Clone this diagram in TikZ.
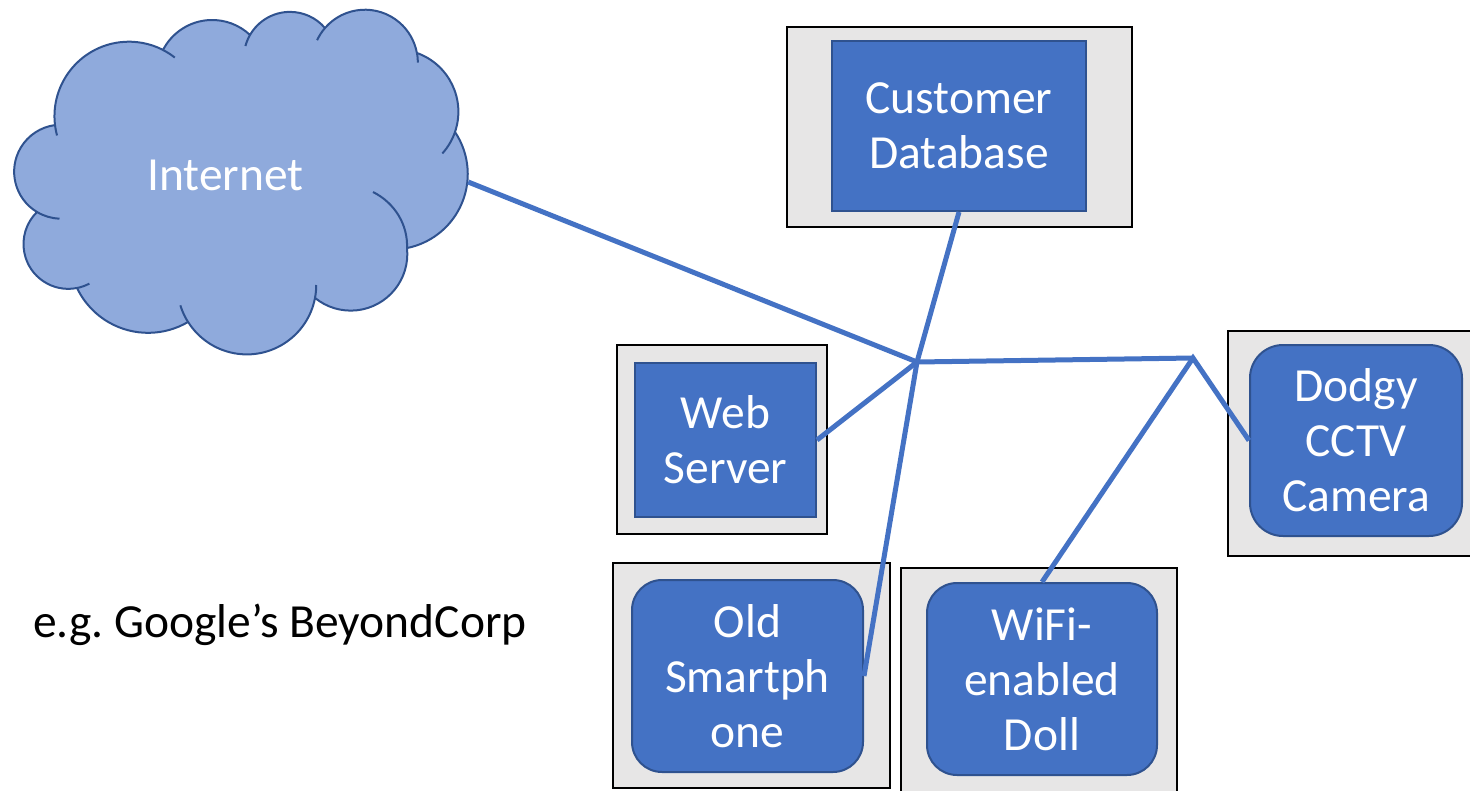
\documentclass[tikz,border=0pt]{standalone}
\usepackage{fontspec}
\setmainfont{Carlito}
\definecolor{boxblue}{HTML}{4472C4}
\definecolor{boxedge}{HTML}{2F528F}
\definecolor{cloudfill}{HTML}{8FAADC}
\definecolor{casefill}{HTML}{E7E6E6}
\frenchspacing
\begin{document}
\begin{tikzpicture}[x=1pt,y=-1pt,
  bigtext/.style={font=\fontsize{47.5}{55}\selectfont},
  casebox/.style={draw=black,fill=casefill,line width=2pt,inner sep=0pt},
  hostbox/.style={draw=boxedge,fill=boxblue,line width=2pt,inner sep=0pt,
    text=white,align=center,bigtext},
  devicebox/.style={hostbox,rounded corners=30pt},
  link/.style={draw=boxblue,line width=5pt},
  cloudline/.style={draw=boxedge,line width=2pt}]
\path[use as bounding box] (0,0) rectangle (1470,790);
\clip (0,0) rectangle (1470,790);

% cloud outline built from circular puffs
\path[cloudline,fill=cloudfill,line join=round]
  (55,125) arc[start angle=173.2, end angle=297.2, radius=74.5] -- (163,50)
  arc[start angle=207.2, end angle=313.2, radius=55.3] -- (250,35)
  arc[start angle=209.9, end angle=319.4, radius=46.1] -- (325,28)
  arc[start angle=220.8, end angle=349.6, radius=52.8] -- (417,53)
  arc[start angle=289.7, end angle=379, radius=62.4] -- (455,132)
  arc[start angle=326.2, end angle=438.7, radius=75.5] -- (407,248)
  arc[start angle=353.9, end angle=489.1, radius=56.6] -- (315,298)
  arc[start angle=10.8, end angle=147.8, radius=69.4] -- (188,322)
  arc[start angle=59.6, end angle=154.4, radius=78.8] -- (77,288)
  arc[start angle=78.8, end angle=225.6, radius=44.8] -- (37,212)
  arc[start angle=120.9, end angle=262.4, radius=47] -- cycle;
% inner creases of the cloud
\draw[cloudline] (55,125) arc[start angle=173.2, end angle=165, radius=74.5];
\draw[cloudline] (163,50) arc[start angle=297.2, end angle=308, radius=74.5];
\draw[cloudline] (250,35) arc[start angle=209.9, end angle=195, radius=46.1];
\draw[cloudline] (325,28) arc[start angle=220.8, end angle=205, radius=52.8];
\draw[cloudline] (417,53) arc[start angle=349.6, end angle=360, radius=52.8];
\draw[cloudline] (455,132) arc[start angle=19, end angle=42, radius=62.4];
\draw[cloudline] (407,248) .. controls (408,225) and (395,203) .. (373,192);
\draw[cloudline] (315,298) arc[start angle=10.8, end angle=0, radius=69.4];
\draw[cloudline] (188,322) arc[start angle=147.8, end angle=163, radius=69.4];
\draw[cloudline] (77,288) arc[start angle=78.8, end angle=62, radius=44.8];
\draw[cloudline] (37,212) arc[start angle=120.9, end angle=92, radius=47];

\node[inner sep=0pt,minimum width=454pt,minimum height=345pt] (cloud) at (241,182) {};
\node[bigtext,text=white] (internet) at (225.5,175) {Internet};

% machines in their cases
\node[casebox,minimum width=345pt,minimum height=200pt] (dbcase) at (959.5,127) {};
\node[hostbox,minimum width=254pt,minimum height=170pt] (db) at (959,126) {Customer\\Database};

\node[casebox,minimum width=210pt,minimum height=189pt] (webcase) at (722,439.5) {};
\node[hostbox,minimum width=181pt,minimum height=154pt] (web) at (725.5,440) {Web\\Server};

\node[casebox,minimum width=262pt,minimum height=225pt] (cctvcase) at (1359,443.5) {};
\node[devicebox,rounded corners=33pt,minimum width=212pt,minimum height=191pt] (cctv) at (1356,440.5) {Dodgy\\CCTV\\Camera};

\node[casebox,minimum width=277pt,minimum height=225pt] (phonecase) at (751.5,675.5) {};
\node[devicebox,minimum width=231pt,minimum height=192pt] (phone) at (747.5,676) {Old\\Smartph\\one};

\node[casebox,minimum width=276pt,minimum height=232pt] (dollcase) at (1039,684) {};
\node[devicebox,minimum width=230pt,minimum height=192pt] (doll) at (1042,679) {WiFi-\\enabled\\Doll};

\node[bigtext,anchor=base west,inner sep=0pt] (note) at (33,637) {e.g. Google’s BeyondCorp};

% network wiring
\coordinate (hub) at (917,362);
\coordinate (hubr) at (1193,358);
\draw[link] (cloud.east) -- (hub);
\draw[link] (db.south) -- (hub) -- (phone.east);
\draw[link] (web.east) -- (hub) -- (hubr);
\draw[link] (doll.north) -- (hubr) -- (cctv.west);
\end{tikzpicture}
\end{document}
